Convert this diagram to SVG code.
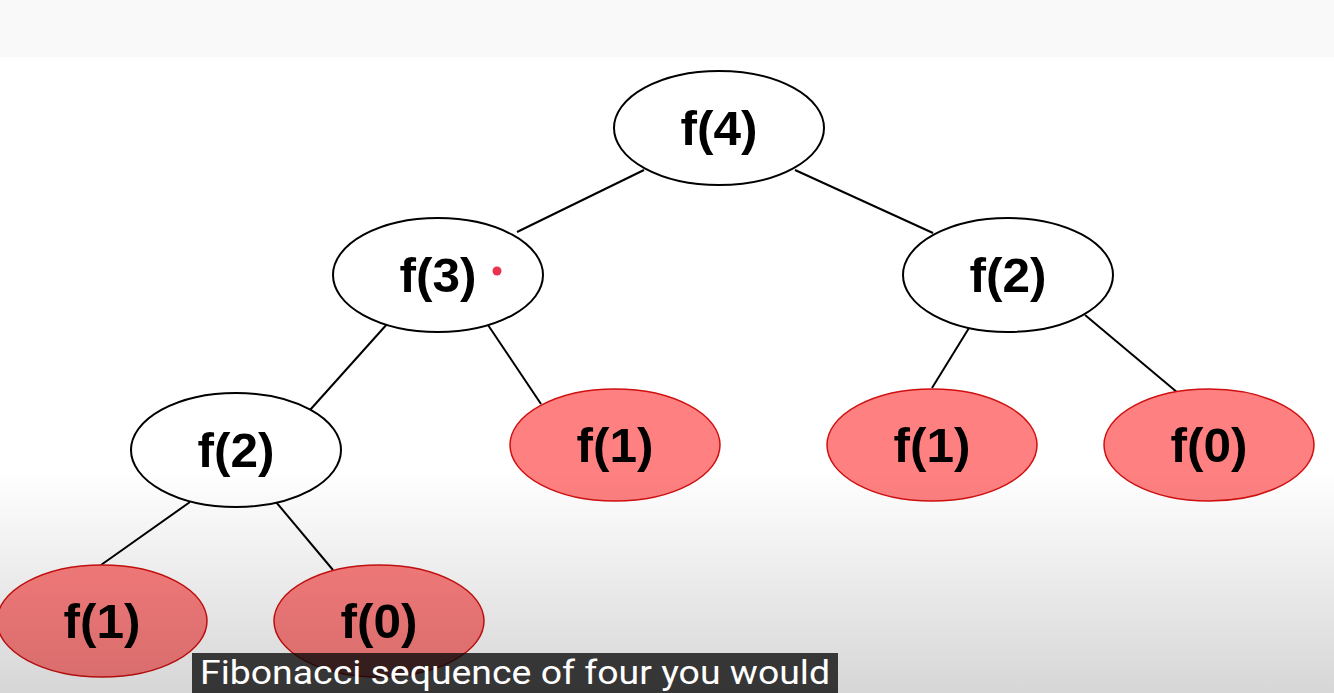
<svg xmlns="http://www.w3.org/2000/svg" width="1334" height="693" viewBox="0 0 1334 693">
<style>
.n{fill:#ffffff;stroke:#000;stroke-width:2}
.r{fill:#ff8080;stroke:#d01010;stroke-width:1.5}
.t{font-family:"Liberation Sans",Arial,sans-serif;font-weight:bold;font-size:48px;fill:#000;text-anchor:middle}
.e line{stroke:#000;stroke-width:2}
.sub{font-family:Roboto,"Noto Sans",sans-serif;font-size:33px;fill:#fff}
</style>
<defs>
<linearGradient id="shade" x1="0" y1="0" x2="0" y2="1">
<stop offset="0" stop-color="#000" stop-opacity="0"/>
<stop offset="1" stop-color="#000" stop-opacity="0.16"/>
</linearGradient>
</defs>
<rect width="1334" height="693" fill="#fff"/>
<rect width="1334" height="57" fill="#f9f9f9"/>
<g class="e" id="connectors">
<line x1="644" y1="170" x2="517" y2="232"/>
<line x1="795" y1="170" x2="933" y2="233"/>
<line x1="388" y1="323" x2="310" y2="410"/>
<line x1="488" y1="325" x2="541" y2="404"/>
<line x1="969" y1="328" x2="932" y2="388"/>
<line x1="1085" y1="315" x2="1178" y2="393"/>
<line x1="190" y1="502" x2="101" y2="565"/>
<line x1="276" y1="502" x2="333" y2="570"/>
</g>
<g id="f4"><ellipse class="n" cx="719" cy="128" rx="105" ry="57"/><text class="t" x="719" y="145" textLength="77" lengthAdjust="spacingAndGlyphs">f(4)</text></g>
<g id="f3"><ellipse class="n" cx="438" cy="275" rx="105" ry="57"/><text class="t" x="438" y="292" textLength="77" lengthAdjust="spacingAndGlyphs">f(3)</text><circle cx="497" cy="271" r="4.5" fill="#e8344e"/></g>
<g id="f2r"><ellipse class="n" cx="1008" cy="275" rx="105" ry="57"/><text class="t" x="1008" y="292" textLength="77" lengthAdjust="spacingAndGlyphs">f(2)</text></g>
<g id="f2l"><ellipse class="n" cx="236" cy="450" rx="105" ry="57"/><text class="t" x="236" y="467" textLength="77" lengthAdjust="spacingAndGlyphs">f(2)</text></g>
<g id="f1m"><ellipse class="r" cx="615" cy="445" rx="105" ry="56"/><text class="t" x="615" y="462" textLength="77" lengthAdjust="spacingAndGlyphs">f(1)</text></g>
<g id="f1r"><ellipse class="r" cx="932" cy="445" rx="105" ry="56"/><text class="t" x="932" y="462" textLength="77" lengthAdjust="spacingAndGlyphs">f(1)</text></g>
<g id="f0r"><ellipse class="r" cx="1209" cy="445" rx="105" ry="56"/><text class="t" x="1209" y="462" textLength="77" lengthAdjust="spacingAndGlyphs">f(0)</text></g>
<g id="f1b"><ellipse class="r" cx="102" cy="621" rx="105" ry="56"/><text class="t" x="102" y="638" textLength="77" lengthAdjust="spacingAndGlyphs">f(1)</text></g>
<g id="f0b"><ellipse class="r" cx="379" cy="621" rx="105" ry="56"/><text class="t" x="379" y="638" textLength="77" lengthAdjust="spacingAndGlyphs">f(0)</text></g>
<rect x="0" y="470" width="1334" height="223" fill="url(#shade)"/>
<g id="subtitle">
<rect x="192" y="653" width="646" height="40" fill="#080808" fill-opacity="0.78"/>
<text class="sub" x="200" y="684" textLength="630" lengthAdjust="spacingAndGlyphs">Fibonacci sequence of four you would</text>
</g>
</svg>
